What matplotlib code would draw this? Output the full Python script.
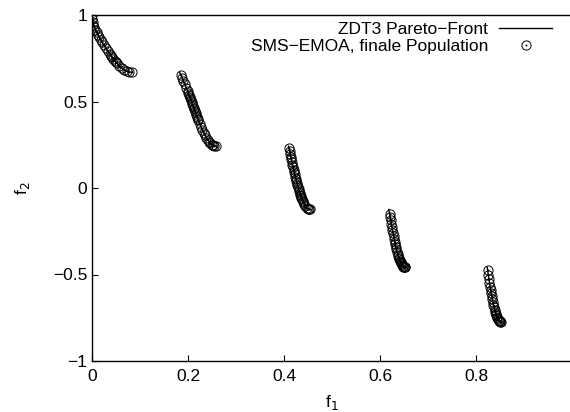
import matplotlib
matplotlib.use("Agg")
import matplotlib.pyplot as plt
from matplotlib.legend_handler import HandlerTuple

plt.rcParams['font.family'] = ['Liberation Sans', 'DejaVu Sans']

# ZDT3 Pareto front (one list per disconnected piece)
front_f1 = [
    [0.0, 0.005, 0.01, 0.02, 0.03, 0.04, 0.05, 0.06, 0.07, 0.08, 0.083],
    [0.1822, 0.19, 0.20, 0.21, 0.22, 0.23, 0.24, 0.25, 0.2578],
    [0.4093, 0.415, 0.42, 0.425, 0.43, 0.435, 0.44, 0.445, 0.45, 0.4539],
    [0.6184, 0.625, 0.63, 0.635, 0.64, 0.645, 0.65, 0.6525],
    [0.8233, 0.8275, 0.83, 0.835, 0.84, 0.845, 0.85, 0.8518],
]
front_f2 = [
    [1.0, 0.9285, 0.8969, 0.8468, 0.8025, 0.762, 0.7264, 0.698, 0.6788, 0.6702, 0.6697],
    [0.6698, 0.6228, 0.5528, 0.4768, 0.4017, 0.3343, 0.2819, 0.25, 0.2422],
    [0.2423, 0.1674, 0.1050, 0.0476, -0.0036, -0.0471, -0.0818, -0.1066, -0.1208, -0.1242],
    [-0.1240, -0.2325, -0.3034, -0.3627, -0.4087, -0.4402, -0.4562, -0.4583],
    [-0.4579, -0.5389, -0.5825, -0.6578, -0.7154, -0.7538, -0.7720, -0.7733],
]

# SMS-EMOA final population, one list per front piece
pop1_f1 = [0, .0005, .0015, .003, .005, .007, .0095, .012, .015, .018, .021, .025, .029, .033,
           .037, .0395, .042, .0445, .047, .0495, .052, .057, .062, .067, .072, .077, .083]
pop1_f2 = [1.0, .9776, .9612, .9449, .9285, .9148, .8997, .8860, .8707, .8562, .8422, .8242, .8068,
           .7899, .7737, .7639, .7544, .7452, .7364, .7280, .7201, .7056, .6934, .6835, .6762,
           .6716, .6697]
pop2_f1 = [.1850, .1878, .1906, .1934, .1962, .1990, .2004, .2018, .2032, .2046, .2060, .2074,
           .2088, .2102, .2116, .2130, .2144, .2158, .2172, .2186, .2200, .2214, .2242, .2270,
           .2298, .2326, .2354, .2382, .2410, .2438, .2466, .2494, .2522, .2550, .2578]
pop2_f2 = [.6539, .6369, .6189, .6000, .5804, .5602, .5498, .5394, .5288, .5182, .5075, .4968,
           .4861, .4753, .4646, .4539, .4433, .4327, .4222, .4119, .4016, .3916, .3720, .3533,
           .3356, .3190, .3037, .2899, .2777, .2671, .2582, .2513, .2462, .2431, .2422]
pop3_f1 = [.4103, .41165, .412825, .4140, .415175, .41635, .417525, .4187, .419875, .42105,
           .422225, .4234, .424575, .42575, .426925, .4281, .429275, .43045, .431625, .4328,
           .433975, .43515, .436325, .4375, .438675, .43985, .4422, .44455, .4469, .44925,
           .4516, .45395]
pop3_f2 = [.2290, .2111, .1957, .1803, .1652, .1502, .1354, .1209, .1066, .0926, .0788, .0653,
           .0522, .0394, .0271, .0150, .0034, -.0079, -.0186, -.0289, -.0388, -.0482, -.0572,
           -.0657, -.0735, -.0808, -.0940, -.1049, -.1133, -.1194, -.1230, -.1242]
pop4_f1 = [.6198, .62084, .62206, .62328, .6245, .62572, .62694, .62816, .62938, .6306, .63182,
           .63304, .63426, .63548, .6367, .63792, .63914, .64036, .64158, .6428, .64402, .64524,
           .64646, .64768, .6489, .65012, .65134, .65256]
pop4_f2 = [-.1484, -.1660, -.1860, -.2058, -.2249, -.2434, -.2613, -.2786, -.2952, -.3113,
           -.3264, -.3409, -.3548, -.3678, -.3799, -.3912, -.4018, -.4115, -.4201, -.4283,
           -.4351, -.4413, -.4465, -.4507, -.4541, -.4564, -.4578, -.4583]
pop5_f1 = [.8240, .825675, .826863, .82805, .829238, .830425, .831613, .8328, .833988, .835175,
           .836363, .83755, .838738, .839925, .841113, .8423, .843488, .844675, .845863, .84705,
           .848238, .849425, .850613, .8518]
pop5_f2 = [-.4720, -.5049, -.5272, -.5490, -.5697, -.5897, -.6086, -.6267, -.6439, -.6600,
           -.6753, -.6895, -.7027, -.7147, -.7257, -.7356, -.7443, -.7520, -.7585, -.7638,
           -.7679, -.7709, -.7727, -.7734]

pop_f1 = pop1_f1 + pop2_f1 + pop3_f1 + pop4_f1 + pop5_f1
pop_f2 = pop1_f2 + pop2_f2 + pop3_f2 + pop4_f2 + pop5_f2

x_ticks = [0, 0.2, 0.4, 0.6, 0.8]
x_tick_labels = ["0", "0.2", "0.4", "0.6", "0.8"]
y_ticks = [-1, -0.5, 0, 0.5, 1]
y_tick_labels = ["\u22121", "\u22120.5", "0", "0.5", "1"]

FS = 12.5
W, H = 570, 412
fig = plt.figure(figsize=(W / 100, H / 100), dpi=100)
ax = fig.add_axes([92 / W, (H - 361) / H, 480 / W, 346 / H])

for fx, fy in zip(front_f1, front_f2):
    ln, = ax.plot(fx, fy, color='black', lw=1.0, zorder=2)

circ, = ax.plot(pop_f1, pop_f2, linestyle='none', marker='o', ms=6.6,
                mfc='none', mec='black', mew=0.7, zorder=3)
dot, = ax.plot(pop_f1, pop_f2, linestyle='none', marker='o', ms=1.0,
               mfc='black', mec='black', mew=0.3, zorder=3)

ax.set_xlim(0, 1)
ax.set_ylim(-1, 1)
ax.set_xticks(x_ticks)
ax.set_xticklabels(x_tick_labels)
ax.set_yticks(y_ticks)
ax.set_yticklabels(y_tick_labels)
ax.tick_params(direction='in', length=4, width=0.8, labelsize=FS, top=False, right=False)
ax.tick_params(axis='x', pad=6)
ax.tick_params(axis='y', pad=3.5)
ax.spines['right'].set_visible(False)
for s in ['left', 'bottom', 'top']:
    ax.spines[s].set_linewidth(1.0)

ax.set_xlabel('f$_1$', fontsize=FS)
ax.set_ylabel('f$_2$', fontsize=FS)
ax.xaxis.set_label_coords(0.5, -0.093)
ax.yaxis.set_label_coords(-0.125, 0.5)

leg = ax.legend([ln, (circ, dot)], ['ZDT3 Pareto\u2212Front', 'SMS\u2212EMOA, finale Population'],
                handler_map={tuple: HandlerTuple(ndivide=1, pad=0)},
                loc='upper right', bbox_to_anchor=(552 / W, (H - 22) / H),
                bbox_transform=fig.transFigure, frameon=False, fontsize=FS,
                markerfirst=False, handlelength=3.05, handletextpad=0.63,
                borderpad=0, borderaxespad=0, labelspacing=0.12)
for t in leg.get_texts():
    t.set_ha('right')

fig.savefig('out.png', dpi=100)
